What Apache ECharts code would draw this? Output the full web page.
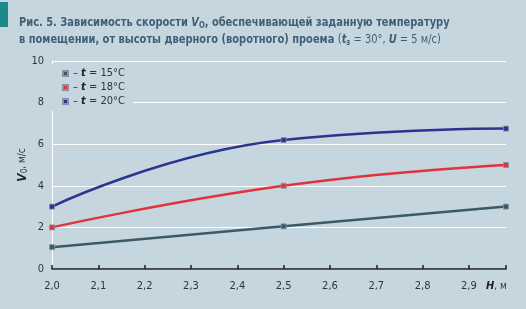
<!DOCTYPE html>
<html><head><meta charset="utf-8">
<script src="https://cdn.jsdelivr.net/npm/echarts@6/dist/echarts.min.js"></script>
<style>html,body{margin:0;padding:0;background:#c6d6df;}#c{width:526px;height:309px;}</style>
</head><body><div id="c"></div>
<script>
var heights = [2.0, 2.5, 2.98];
var temps = ['15', '18', '20'];
var v15 = [1.05, 2.05, 3.0];
var v18 = [2.0, 4.0, 5.0];
var v20 = [3.0, 6.2, 6.75];
var colors = ['#3b5966', '#e2323c', '#2c3490'];
var yTicks = [0, 2, 4, 6, 8, 10];

var FONT = '"DejaVu Sans Condensed","Liberation Sans Narrow",sans-serif';
var NFONT = '"Liberation Sans Narrow","DejaVu Sans Condensed",sans-serif';
var BG = '#c6d6df';
var TC = '#3f5f77';
function pairs(ys){ return heights.map(function(h,i){ return [h, ys[i]]; }); }
var allSeries = [v15, v18, v20];

var chart = echarts.init(document.getElementById('c'));
chart.setOption({
  backgroundColor: BG,
  animation: false,
  textStyle: {fontFamily: NFONT},
  grid: {left: 52, right: 20, top: 61, bottom: 40},
  legend: {
    left: 52, top: 64, orient: 'vertical',
    icon: 'rect', itemWidth: 5, itemHeight: 5, itemGap: 1,
    padding: [3, 8, 3, 10],
    backgroundColor: BG,
    data: temps.map(function(t){ return t; }),
    formatter: function(name){ return '{d|– }{t|t}{d| = ' + name + '°C}'; },
    textStyle: {
      fontFamily: NFONT, fontSize: 11, color: '#333', lineHeight: 13,
      rich: {
        d: {fontFamily: NFONT, fontSize: 11, color: '#333'},
        t: {fontFamily: NFONT, fontSize: 11, color: '#222', fontWeight: 'bold', fontStyle: 'italic'}
      }
    }
  },
  xAxis: {
    type: 'value', min: 2.0, max: 2.98, interval: 0.1,
    axisLine: {show: true, lineStyle: {color: '#1e1e1e', width: 1.5}},
    axisTick: {show: true, inside: true, length: 4, lineStyle: {color: '#1e1e1e', width: 1.5}},
    splitLine: {show: false},
    axisLabel: {
      margin: 12, fontSize: 11, color: '#333', fontFamily: NFONT, showMaxLabel: true,
      formatter: function(v){ return v > 2.95 ? '' : v.toFixed(1).replace('.', ','); }
    }
  },
  yAxis: {
    type: 'value', min: yTicks[0], max: yTicks[yTicks.length-1], interval: 2,
    axisLine: {show: true, lineStyle: {color: '#ffffff', width: 1}},
    axisTick: {show: false},
    splitLine: {show: true, lineStyle: {color: '#ffffff', width: 1}},
    axisLabel: {margin: 8, fontSize: 11, color: '#333', fontFamily: NFONT},
    name: '{v|V}{s|0}{u|, м/с}',
    nameLocation: 'middle', nameRotate: 90, nameGap: 23, nameMoveOverlap: false,
    nameTextStyle: {
      rich: {
        v: {fontFamily: NFONT, fontSize: 12, fontWeight: 'bold', fontStyle: 'italic', color: '#222'},
        s: {fontFamily: NFONT, fontSize: 8, color: '#333', padding: [5, 0, 0, 0]},
        u: {fontFamily: NFONT, fontSize: 10, color: '#333'}
      }
    }
  },
  graphic: [
    {type: 'rect', left: 0, top: 2, shape: {width: 8, height: 25}, style: {fill: '#1c8a8b'}},
    {type: 'text', x: 19, y: 14, scaleX: 0.845, style: {
      text: '{b|Рис. 5. Зависимость скорости }{bi|V}{bs|О}{b|, обеспечивающей заданную температуру}\n' +
            '{b|в помещении, от высоты дверного (воротного) проема }{n|(}{bi|t}{bs|з}{n| = 30°, }{bi|U}{n| = 5 м/с)}',
      verticalAlign: 'top', align: 'left',
      fontFamily: FONT, fontSize: 13, fill: TC, lineHeight: 17,
      rich: {
        b: {fontFamily: FONT, fontSize: 13, fontWeight: 'bold', fill: TC, lineHeight: 17},
        bi: {fontFamily: FONT, fontSize: 13, fontWeight: 'bold', fontStyle: 'italic', fill: TC, lineHeight: 17},
        bs: {fontFamily: FONT, fontSize: 9, fontWeight: 'bold', fill: TC, padding: [6, 0, 0, 0], lineHeight: 17},
        n: {fontFamily: FONT, fontSize: 13, fill: TC, lineHeight: 17}
      }
    }},
    {type: 'text', left: 486, top: 281, style: {
      text: '{h|H}{m|, м}',
      rich: {
        h: {fontFamily: NFONT, fontSize: 11, fontWeight: 'bold', fontStyle: 'italic', fill: '#222'},
        m: {fontFamily: NFONT, fontSize: 10, fill: '#333'}
      }
    }}
  ],
  series: temps.map(function(t, i){
    return {
      name: t, type: 'line', smooth: 0.5,
      data: pairs(allSeries[i]),
      symbol: 'rect', symbolSize: 5,
      lineStyle: {color: colors[i], width: 2.5},
      itemStyle: {color: colors[i], borderColor: '#8494a3', borderWidth: 0.8}
    };
  })
});
</script></body></html>
